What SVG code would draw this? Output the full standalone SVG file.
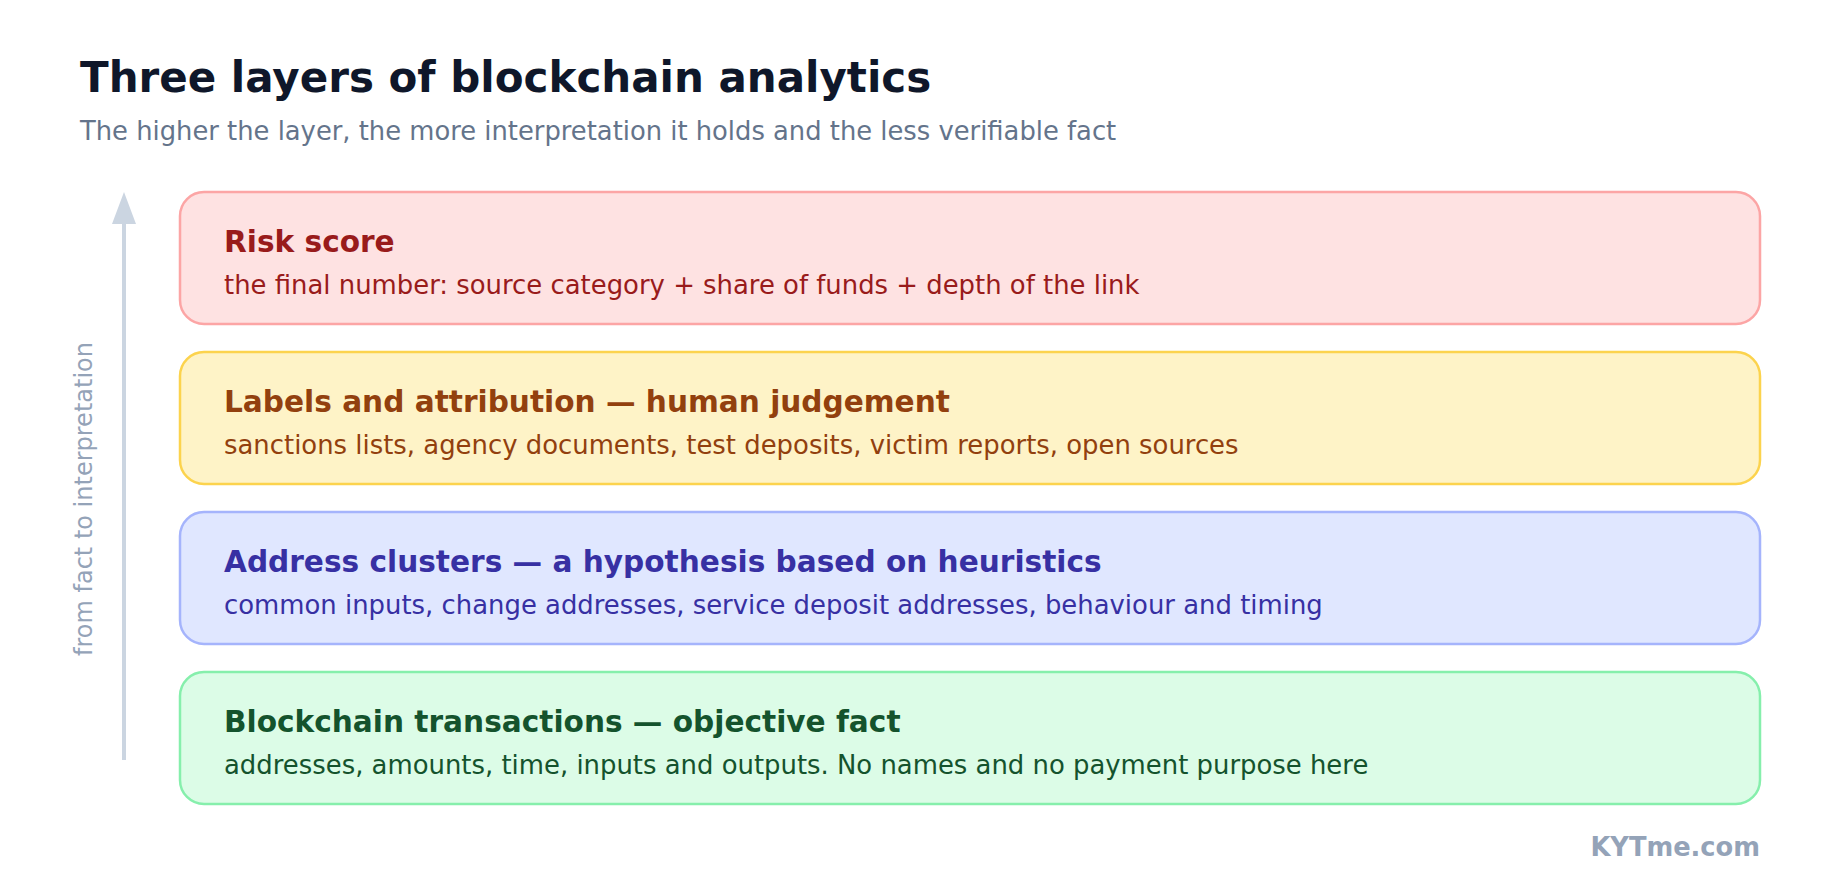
<svg xmlns="http://www.w3.org/2000/svg" width="1840" height="880" viewBox="0 0 1840 880">
<style>
text{font-family:"DejaVu Sans","Liberation Sans",sans-serif}
.h1{font-size:42px;font-weight:bold;fill:#0f172a}
.sub{font-size:25.8px;fill:#64748b}
.box{stroke-width:2.5}
.bt{font-size:29.6px;font-weight:bold}
.bs{font-size:25.9px}
.axis{font-size:24px;fill:#94a3b8}
.brand{font-size:25.7px;font-weight:bold;fill:#94a3b8}
</style>
<rect width="1840" height="880" fill="#ffffff"/>
<text class="h1" x="80" y="92">Three layers of blockchain analytics</text>
<text class="sub" x="80" y="140">The higher the layer, the more interpretation it holds and the less verifiable fact</text>
<g id="connectors">
<line x1="124" y1="760" x2="124" y2="220" stroke="#cbd5e1" stroke-width="4"/>
<polygon points="124,192 136,224 112,224" fill="#cbd5e1"/>
</g>
<text class="axis" transform="translate(92,499) rotate(-90)" text-anchor="middle">from fact to interpretation</text>
<g id="risk">
<rect class="box" x="180" y="192" width="1580" height="132" rx="24" fill="#fee2e2" stroke="#fca5a5"/>
<text class="bt" x="224" y="252" fill="#991b1b">Risk score</text>
<text class="bs" x="224" y="294" fill="#991b1b">the final number: source category + share of funds + depth of the link</text>
</g>
<g id="labels">
<rect class="box" x="180" y="352" width="1580" height="132" rx="24" fill="#fef3c7" stroke="#fcd34d"/>
<text class="bt" x="224" y="412" fill="#92400e">Labels and attribution — human judgement</text>
<text class="bs" x="224" y="454" fill="#92400e">sanctions lists, agency documents, test deposits, victim reports, open sources</text>
</g>
<g id="clusters">
<rect class="box" x="180" y="512" width="1580" height="132" rx="24" fill="#e0e7ff" stroke="#a5b4fc"/>
<text class="bt" x="224" y="572" fill="#3730a3">Address clusters — a hypothesis based on heuristics</text>
<text class="bs" x="224" y="614" fill="#3730a3">common inputs, change addresses, service deposit addresses, behaviour and timing</text>
</g>
<g id="transactions">
<rect class="box" x="180" y="672" width="1580" height="132" rx="24" fill="#dcfce7" stroke="#86efac"/>
<text class="bt" x="224" y="732" fill="#14532d">Blockchain transactions — objective fact</text>
<text class="bs" x="224" y="774" fill="#14532d">addresses, amounts, time, inputs and outputs. No names and no payment purpose here</text>
</g>
<text class="brand" x="1760" y="856" text-anchor="end">KYTme.com</text>
</svg>
